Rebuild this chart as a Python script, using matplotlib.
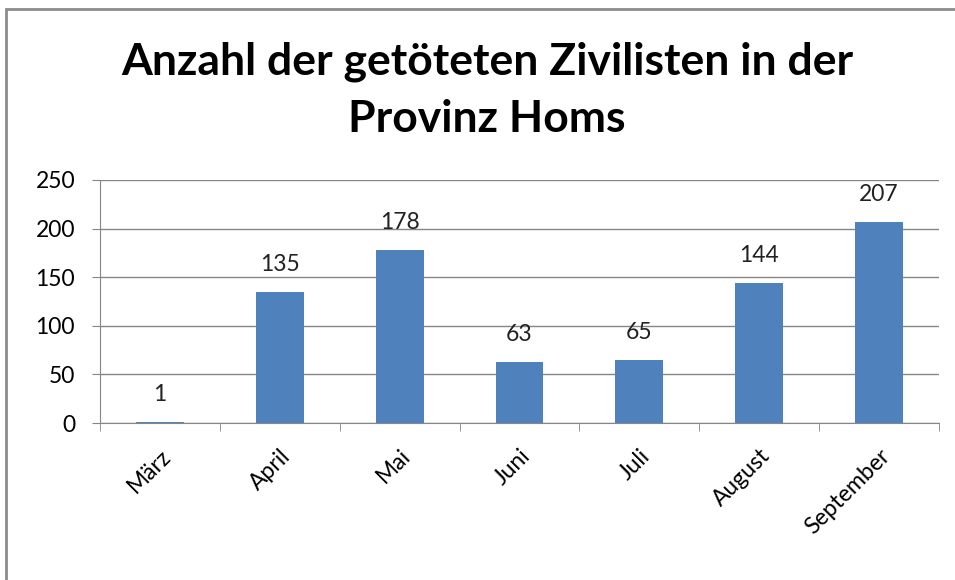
import matplotlib.pyplot as plt
from matplotlib.patches import Rectangle

# Data
months = ["März", "April", "Mai", "Juni", "Juli", "August", "September"]
killed = [1, 135, 178, 63, 65, 144, 207]
y_ticks = [0, 50, 100, 150, 200, 250]

title = "Anzahl der getöteten Zivilisten in der\nProvinz Homs"
bar_color = "#4F81BD"
grid_color = "#868686"

plt.rcParams['font.family'] = ['Lato', 'DejaVu Sans']

fig = plt.figure(figsize=(9.55, 5.8), dpi=100)
ax = fig.add_axes([100 / 955, 1 - 423 / 580, 839 / 955, 243 / 580])

x = list(range(len(months)))
ax.bar(x, killed, width=0.4, color=bar_color, zorder=3)

# value labels above bars
for xi, v in zip(x, killed):
    ax.annotate(str(v), (xi, v), xytext=(0, 12), textcoords="offset points",
                ha="center", va="bottom", fontsize=16.5, color="#222222")

ax.set_xlim(-0.5, len(months) - 0.5)
ax.set_ylim(0, 250)
ax.set_yticks(y_ticks)
ax.set_yticklabels([str(t) for t in y_ticks], fontsize=16.5)
ax.yaxis.grid(True, color=grid_color, linewidth=1, zorder=0)

# category labels, rotated like Excel
ax.set_xticks(x)
ax.set_xticklabels(months, rotation=45, ha="right", rotation_mode="anchor", fontsize=16.5)
ax.tick_params(axis="x", length=0, pad=16)
ax.tick_params(axis="y", length=6, color=grid_color, pad=12)

# tick marks between categories
ax.set_xticks([i - 0.5 for i in range(len(months) + 1)], minor=True)
ax.tick_params(axis="x", which="minor", length=6, color=grid_color, direction="out")

for s in ["top", "right"]:
    ax.spines[s].set_visible(False)
ax.spines["left"].set_color(grid_color)
ax.spines["bottom"].set_color(grid_color)

fig.text(487 / 955, 1 - 90 / 580, title, ha="center", va="center",
         fontsize=32, fontweight="bold", linespacing=1.5)

# outer chart frame (runs off the right and bottom edges)
fig.patches.append(Rectangle((6 / 955, -0.05), 1.05, 1 - 9 / 580 + 0.05,
                             transform=fig.transFigure, fill=False,
                             edgecolor="#8c8c8c", linewidth=2))

plt.savefig("out.png", dpi=100)
